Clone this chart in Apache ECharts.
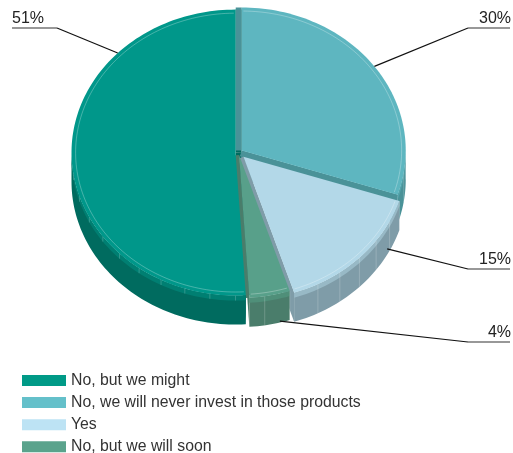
<!DOCTYPE html>
<html>
<head>
<meta charset="utf-8">
<style>
  html, body { margin: 0; padding: 0; background: #ffffff; }
  #chart { width: 513px; height: 453px; }
</style>
<script src="https://cdn.jsdelivr.net/npm/echarts@6/dist/echarts.min.js"></script>
</head>
<body>
<div id="chart"></div>
<script>
// Survey answers, in legend order
const categories = [
  'No, but we might',
  'No, we will never invest in those products',
  'Yes',
  'No, but we will soon'
];
const shares = [51, 30, 15, 4];
const shareLabels = ['51%', '30%', '15%', '4%'];

// Styling
const topColors    = ['#00978a', '#5eb6c0', '#b3d8e8', '#58a08a'];
const bandColors   = ['#007f72', '#52a4ab', '#98b9c6', '#4f8f79'];
const sideColors   = ['#006b5f', '#4a9298', '#7f9ca8', '#4a7d6b'];
const legendColors = ['#009a87', '#64c0ca', '#bde3f4', '#5aa38c'];

// Pie geometry (tilted disc)
const pie = { cx: 238.5, cy: 152.5, rx: 164, ry: 143, depth: 29, band: 5, bevel: 6 };
const explode = [3, 4, 7, 3];
// Leader line anchor: [fraction along slice arc, fraction down the side wall]
const leaderAnchor = [[0.75, 0], [0.5, 0], [0.2, 0.8], [0.25, 0.95]];
// Label placement: side of chart and underline height
const labelPlace = [
  { side: 'left',  y: 28 },
  { side: 'right', y: 28 },
  { side: 'right', y: 269 },
  { side: 'right', y: 342 }
];

const DEG = Math.PI / 180;
const total = shares.reduce((a, b) => a + b, 0);
// first slice ends at 12 o'clock, slices run clockwise
const firstStart = 360 - shares[0] / total * 360;

function sliceRange(i) {
  let a = firstStart;
  for (let k = 0; k < i; k++) a += shares[k] / total * 360;
  return [a, a + shares[i] / total * 360];
}
function centerOf(i) {
  const [a0, a1] = sliceRange(i);
  const m = (a0 + a1) / 2 * DEG;
  return [pie.cx + explode[i] * Math.sin(m), pie.cy - explode[i] * Math.cos(m) * pie.ry / pie.rx];
}
function rim(c, deg, scale, dy) {
  const t = deg * DEG;
  const s = scale == null ? 1 : scale;
  return [c[0] + pie.rx * s * Math.sin(t), c[1] - pie.ry * s * Math.cos(t) + (dy || 0)];
}
function arc(c, a0, a1, scale, dy) {
  const pts = [];
  const n = Math.max(2, Math.ceil((a1 - a0) / 1.5));
  for (let k = 0; k <= n; k++) pts.push(rim(c, a0 + (a1 - a0) * k / n, scale, dy));
  return pts;
}
function frontPart(a0, a1) {
  const spans = [];
  [[90, 270], [450, 630]].forEach(([lo, hi]) => {
    const s = Math.max(a0, lo), e = Math.min(a1, hi);
    if (e > s) spans.push([s, e]);
  });
  return spans;
}

function renderSlice(params) {
  const i = params.dataIndex;
  const [a0, a1] = sliceRange(i);
  const c = centerOf(i);
  const D = pie.depth;
  const kids = [];

  // cut faces along both radial edges (only those turned toward the viewer)
  [[a0, -1], [a1, 1]].forEach(([a, dir]) => {
    const r = rim(c, a);
    const t = a * DEG;
    const nx = dir * Math.cos(t), ny = dir * Math.sin(t);
    if (ny < -0.1) return;
    const n = [nx * pie.bevel, ny * pie.bevel];
    kids.push({
      type: 'polygon', z2: 1,
      shape: { points: [c, r, [r[0] + n[0], r[1] + n[1]], [c[0] + n[0], c[1] + n[1]]] },
      style: { fill: sideColors[i] }
    });
    kids.push({
      type: 'polygon', z2: 1,
      shape: { points: [c, r, [r[0], r[1] + D], [c[0], c[1] + D]] },
      style: { fill: sideColors[i] }
    });
  });

  // outer wall, front half only
  frontPart(a0, a1).forEach(([s, e]) => {
    const topArc = arc(c, s, e, 1, 0);
    const botArc = arc(c, s, e, 1, D).reverse();
    kids.push({ type: 'polygon', z2: 2, shape: { points: topArc.concat(botArc) }, style: { fill: sideColors[i] } });
    const bandArc = arc(c, s, e, 1, pie.band).reverse();
    kids.push({ type: 'polygon', z2: 3, shape: { points: topArc.concat(bandArc) }, style: { fill: bandColors[i] } });
    // facet seams on the wall
    for (let a = Math.ceil(s / 9) * 9; a < e; a += 9) {
      const p = rim(c, a);
      kids.push({
        type: 'line', z2: 4,
        shape: { x1: p[0], y1: p[1], x2: p[0], y2: p[1] + (i === 0 ? pie.band : D) },
        style: { stroke: 'rgba(255,255,255,0.28)', lineWidth: 0.7 }
      });
    }
  });

  // top face
  kids.push({
    type: 'polygon', z2: 10,
    shape: { points: [c].concat(arc(c, a0, a1, 1, 0)) },
    style: { fill: topColors[i] }
  });
  // bevel highlight just inside the rim
  kids.push({
    type: 'polyline', z2: 11,
    shape: { points: arc(c, a0 + 0.6, a1 - 0.6, 0.975, 0) },
    style: { stroke: 'rgba(255,255,255,0.35)', lineWidth: 0.8, fill: null }
  });

  // value label with leader line
  const [fa, fd] = leaderAnchor[i];
  const anchor = rim(c, a0 + (a1 - a0) * fa, 1, fd * D);
  const lp = labelPlace[i];
  const ux0 = lp.side === 'left' ? 12 : 468;
  const ux1 = lp.side === 'left' ? 57 : 510;
  const joint = lp.side === 'left' ? [ux1, lp.y] : [ux0, lp.y];
  kids.push({
    type: 'polyline', z2: 20,
    shape: { points: [anchor, joint] },
    style: { stroke: '#111', lineWidth: 1.2, fill: null }
  });
  kids.push({
    type: 'line', z2: 20,
    shape: { x1: ux0, y1: lp.y, x2: ux1, y2: lp.y },
    style: { stroke: '#333', lineWidth: 1.2 }
  });
  kids.push({
    type: 'text', z2: 21,
    style: {
      text: shareLabels[i],
      x: lp.side === 'left' ? 12 : 511,
      y: lp.y - 9,
      align: lp.side === 'left' ? 'left' : 'right',
      verticalAlign: 'middle',
      font: '16px "Liberation Sans", Arial, sans-serif',
      fill: '#222'
    }
  });

  return { type: 'group', children: kids };
}

const chart = echarts.init(document.getElementById('chart'), null, { renderer: 'canvas' });
chart.setOption({
  animation: false,
  backgroundColor: '#ffffff',
  legend: {
    // narrow horizontal box: one entry per row
    orient: 'horizontal',
    left: 22,
    top: 372.5,
    width: 60,
    padding: 0,
    itemWidth: 44,
    itemHeight: 11,
    itemGap: 6.1,
    icon: 'rect',
    selectedMode: false,
    data: categories,
    textStyle: {
      fontFamily: '"Liberation Sans", Arial, sans-serif',
      fontSize: 15.8,
      color: '#333'
    }
  },
  series: [
    {
      // carries legend entries and colours
      type: 'pie',
      radius: [0, 0],
      center: [-100, -100],
      silent: true,
      label: { show: false },
      labelLine: { show: false },
      data: categories.map((name, i) => ({ name, value: shares[i], itemStyle: { color: legendColors[i] } }))
    },
    {
      type: 'custom',
      coordinateSystem: 'none',
      silent: true,
      data: shares,
      renderItem: renderSlice
    }
  ]
});
</script>
</body>
</html>
